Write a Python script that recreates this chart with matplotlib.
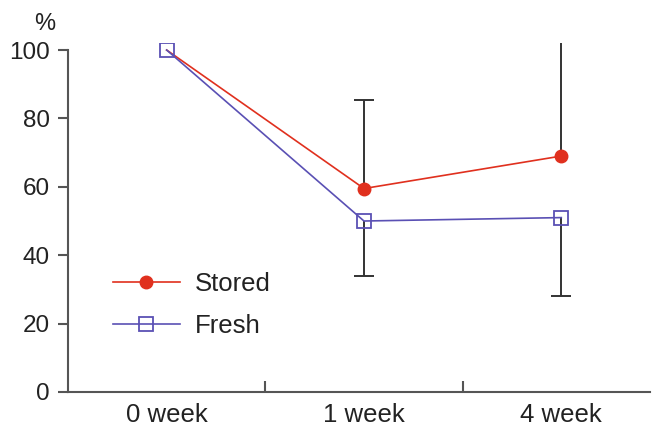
import matplotlib.pyplot as plt

plt.rcParams['font.family'] = ['Liberation Sans', 'DejaVu Sans']
plt.rcParams['text.color'] = '#222222'
plt.rcParams['xtick.labelcolor'] = '#222222'
plt.rcParams['ytick.labelcolor'] = '#222222'

weeks = ['0 week', '1 week', '4 week']
stored = [100, 59.5, 69]
fresh = [100, 50, 51]
# one-sided error bars: stored goes up, fresh goes down
stored_top = [None, 85.5, 104]
fresh_bottom = [None, 34, 28]

red = '#e0301e'
blue = '#5a50b4'
grey = '#333333'

fig = plt.figure(figsize=(6.54, 4.32), dpi=100)
ax = fig.add_axes([0.104, 0.0926, 0.89, 0.8074])

x = list(range(len(weeks)))

ax.vlines(x[1:], stored[1:], stored_top[1:], color=grey, lw=1.4, zorder=1)
ax.vlines(x[1:], fresh_bottom[1:], fresh[1:], color=grey, lw=1.4, zorder=1)
ax.plot(x[1:], stored_top[1:], ls='none', marker='_', ms=14, mew=1.4,
        color=grey, zorder=1)
ax.plot(x[1:], fresh_bottom[1:], ls='none', marker='_', ms=14, mew=1.4,
        color=grey, zorder=1)

ax.plot(x, stored, color=red, lw=1.2, marker='o', ms=9, markevery=[1, 2],
        label='Stored', zorder=2)
ax.plot(x, fresh, color=blue, lw=1.2, marker='s', ms=10, mfc='none',
        mew=1.3, label='Fresh', zorder=3)

ax.set_xlim(-0.5, 2.45)
ax.set_ylim(0, 102)

for s in ['top', 'right']:
    ax.spines[s].set_visible(False)
for s in ['left', 'bottom']:
    ax.spines[s].set_color('#555555')
    ax.spines[s].set_linewidth(1.5)
ax.spines['left'].set_bounds(0, 100)

ax.set_yticks([0, 20, 40, 60, 80, 100])
ax.tick_params(axis='y', direction='out', length=7, width=1.5, color='#555555',
               labelsize=17.5, pad=6)
ax.set_xticks(x)
ax.set_xticklabels(weeks)
ax.tick_params(axis='x', length=0, labelsize=18.5, pad=8)
ax.set_xticks([0.5, 1.5], minor=True)
ax.tick_params(axis='x', which='minor', direction='in', length=8, width=1.5,
               color='#555555')

fig.text(0.069, 0.93, '%', fontsize=17, ha='center')

ax.legend(loc='center left', bbox_to_anchor=(0.077, 0.25), frameon=False,
          fontsize=18.5, handlelength=2.6, labelspacing=0.7,
          handletextpad=0.6, borderpad=0, borderaxespad=0)

fig.savefig('out.png', dpi=100)
